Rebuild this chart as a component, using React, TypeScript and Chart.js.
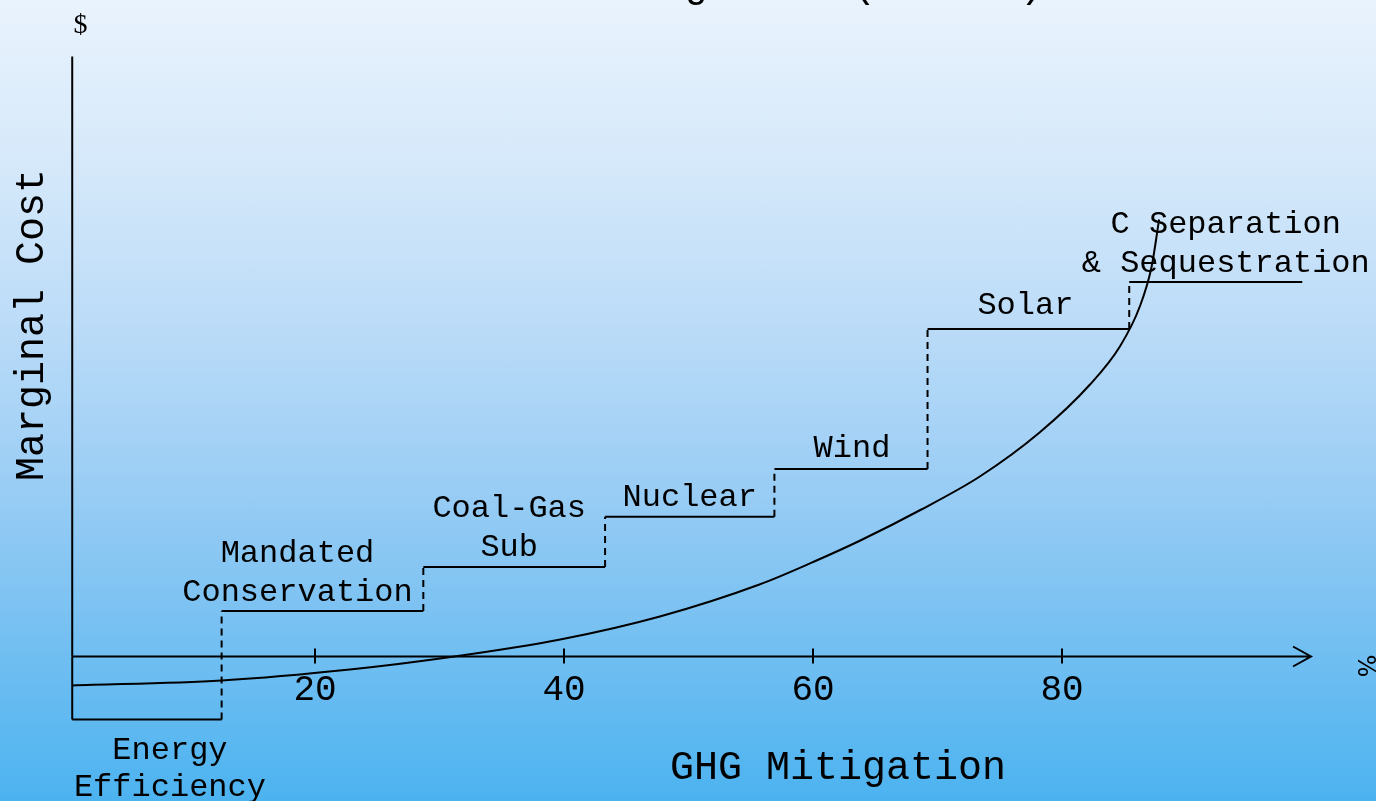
import { useEffect, useRef } from 'react';
import { Chart, registerables } from 'chart.js';

Chart.register(...registerables);

// ---- data ----
const OPTION_NAMES: string[][] = [
  ['Energy', 'Efficiency'],
  ['Mandated', 'Conservation'],
  ['Coal-Gas', 'Sub'],
  ['Nuclear'],
  ['Wind'],
  ['Solar'],
  ['C Separation', '& Sequestration'],
];
const OPTION_START = [0.5, 12.5, 28.7, 43.3, 56.9, 69.2, 85.4];
const OPTION_END = [12.5, 28.7, 43.3, 56.9, 69.2, 85.4, 99.3];
const OPTION_COST = [-10.5, 7.6, 14.9, 23.3, 31.25, 54.6, 62.4];

const CURVE_X = [0.5, 12.5, 22.8, 31.2, 39.7, 47.7, 55.7, 60.1, 63.8, 68.7, 73.4, 78.2, 82.25, 84.65, 86.25, 87.2, 87.8];
const CURVE_Y = [-4.83, -4.0, -2.17, 0, 2.83, 6.67, 12.0, 15.83, 19.33, 24.5, 30.0, 37.33, 45.33, 51.67, 58.33, 65.0, 72.83];

const X_TICKS = [20, 40, 60, 80];
const X_TICK_LABELS = ['20', '40', '60', '80'];
const AXIS_ORIGIN_X = 0.5;
const X_AXIS_END = 100;
const Y_AXIS_TOP = 100;

const TITLE = 'Costs for Mitigation (Sketch)';
const Y_TITLE = 'Marginal Cost';
const X_TITLE = 'GHG Mitigation';
const Y_UNIT = '$';
const X_UNIT = '%';

// ---- styles ----
const MONO = '"Liberation Mono", "Courier New", monospace';
const LABEL_DX = [23, -25, -5, 0, 1, -3, 10];
const LABEL_GAP = [39, 10, 11, 11, 12, 15, 10];

function buildSteps() {
  const pts: { x: number; y: number }[] = [{ x: OPTION_START[0], y: 0 }];
  for (let i = 0; i < OPTION_COST.length; i++) {
    pts.push({ x: OPTION_START[i], y: OPTION_COST[i] });
    pts.push({ x: OPTION_END[i], y: OPTION_COST[i] });
  }
  return pts;
}

const overlay = {
  id: 'overlay',
  beforeDatasetsDraw(chart: any) {
    const ctx = chart.ctx as CanvasRenderingContext2D;
    const xs = chart.scales.x;
    const ys = chart.scales.y;
    const ox = xs.getPixelForValue(AXIS_ORIGIN_X);
    const oy = ys.getPixelForValue(0);
    const tip = xs.getPixelForValue(X_AXIS_END);
    ctx.save();
    ctx.strokeStyle = '#000';
    ctx.lineWidth = 2;
    ctx.beginPath();
    ctx.moveTo(ox, ys.getPixelForValue(Y_AXIS_TOP));
    ctx.lineTo(ox, oy);
    ctx.moveTo(ox, oy);
    ctx.lineTo(tip, oy);
    ctx.moveTo(tip - 18, oy - 10);
    ctx.lineTo(tip, oy);
    ctx.lineTo(tip - 18, oy + 10);
    X_TICKS.forEach((t) => {
      const px = xs.getPixelForValue(t);
      ctx.moveTo(px, oy - 8);
      ctx.lineTo(px, oy + 7);
    });
    ctx.stroke();
    ctx.fillStyle = '#000';
    ctx.font = `36px ${MONO}`;
    ctx.textAlign = 'center';
    ctx.textBaseline = 'alphabetic';
    X_TICKS.forEach((t, i) => {
      ctx.fillText(X_TICK_LABELS[i], xs.getPixelForValue(t), oy + 43);
    });
    ctx.restore();
  },
  afterDraw(chart: any) {
    const ctx = chart.ctx as CanvasRenderingContext2D;
    const xs = chart.scales.x;
    const ys = chart.scales.y;
    ctx.save();
    ctx.fillStyle = '#000';
    ctx.textBaseline = 'alphabetic';
    ctx.font = `32px ${MONO}`;
    ctx.textAlign = 'center';
    OPTION_NAMES.forEach((lines, i) => {
      const cx = (xs.getPixelForValue(OPTION_START[i]) + xs.getPixelForValue(OPTION_END[i])) / 2 + LABEL_DX[i];
      const sy = ys.getPixelForValue(OPTION_COST[i]);
      if (OPTION_COST[i] < 0) {
        lines.forEach((l, k) => ctx.fillText(l, cx, sy + LABEL_GAP[i] + k * 37));
      } else {
        const n = lines.length;
        lines.forEach((l, k) => ctx.fillText(l, cx, sy - LABEL_GAP[i] - (n - 1 - k) * 39));
      }
    });

    // title (cut off at top)
    ctx.font = `40px ${MONO}`;
    ctx.textAlign = 'left';
    ctx.fillText(TITLE, 348, -3);

    // axis titles
    ctx.textAlign = 'center';
    ctx.fillText(X_TITLE, 838, 779);
    ctx.save();
    ctx.translate(43, 325);
    ctx.rotate(-Math.PI / 2);
    ctx.fillText(Y_TITLE, 0, 0);
    ctx.restore();

    ctx.font = '28px "Liberation Serif", serif';
    ctx.fillText(Y_UNIT, 80.5, 33);

    ctx.save();
    ctx.translate(1364, 666);
    ctx.rotate(Math.PI / 2);
    ctx.font = '24px "DejaVu Sans", sans-serif';
    ctx.textBaseline = 'middle';
    ctx.fillText(X_UNIT, 0, 0);
    ctx.restore();

    ctx.restore();
  },
};

export default function App() {
  const ref = useRef<HTMLCanvasElement>(null);
  useEffect(() => {
    const canvas = ref.current;
    if (!canvas) return;
    const chart = new Chart(canvas, {
      type: 'line',
      data: {
        datasets: [
          {
            label: 'Options',
            data: buildSteps(),
            borderColor: '#000',
            borderWidth: 2,
            pointRadius: 0,
            fill: false,
            tension: 0,
            segment: {
              borderDash: (c: any) => (c.p0.parsed.x === c.p1.parsed.x ? [7, 5] : undefined),
            },
          } as any,
          {
            label: 'Curve',
            data: CURVE_X.map((x, i) => ({ x, y: CURVE_Y[i] })),
            borderColor: '#000',
            borderWidth: 2,
            pointRadius: 0,
            fill: false,
            cubicInterpolationMode: 'monotone',
          } as any,
        ],
      },
      options: {
        animation: false,
        responsive: false,
        devicePixelRatio: 1,
        events: [],
        layout: { padding: { left: 66, right: 65, top: 56.5, bottom: 0.5 } },
        scales: {
          x: { type: 'linear', min: 0, max: 100, display: false },
          y: { type: 'linear', min: -24, max: 100, display: false },
        },
        plugins: { legend: { display: false }, tooltip: { enabled: false }, title: { display: false } },
      },
      plugins: [overlay],
    });
    return () => chart.destroy();
  }, []);
  return (
    <div
      style={{
        position: 'fixed',
        left: 0,
        top: 0,
        width: 1376,
        height: 801,
        background: 'linear-gradient(to bottom, #e9f3fd 0%, #d6e9fa 20%, #bcdcf8 40%, #9fcff5 58%, #7cc2f2 76%, #4cb3f0 100%)',
      }}
    >
      <canvas ref={ref} width={1376} height={801} style={{ display: 'block' }} />
    </div>
  );
}
